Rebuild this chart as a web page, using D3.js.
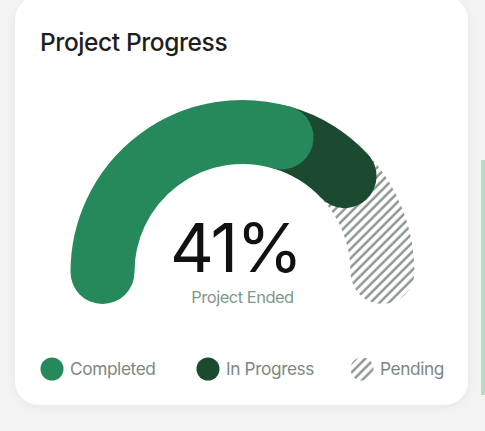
<!DOCTYPE html>
<html>
<head>
<meta charset="utf-8">
<script src="https://cdn.jsdelivr.net/npm/d3@7"></script>
<style>
  html, body { margin: 0; padding: 0; background: #f3f3f3; }
  svg { display: block; }
</style>
</head>
<body>
<div id="chart"></div>
<script>
// ---- data ----
const categories = ["Completed", "In Progress", "Pending"];
const values = [59, 17, 24];
const colors = ["#26895b", "#1b4a30", "url(#hatch)"];
const centerValue = "41%";
const centerLabel = "Project Ended";
const title = "Project Progress";

const W = 485, H = 431;
const svg = d3.select("#chart").append("svg").attr("width", W).attr("height", H);

const defs = svg.append("defs");
const pat = defs.append("pattern")
  .attr("id", "hatch")
  .attr("patternUnits", "userSpaceOnUse")
  .attr("width", 6.5).attr("height", 6.5)
  .attr("patternTransform", "rotate(45)");
pat.append("rect").attr("width", 6.5).attr("height", 6.5).attr("fill", "#ffffff");
pat.append("line").attr("x1", 1.5).attr("y1", 0).attr("x2", 1.5).attr("y2", 6.5)
  .attr("stroke", "#8a958f").attr("stroke-width", 2.4);

const shadow = defs.append("filter").attr("id", "sh").attr("x", "-10%").attr("y", "-10%").attr("width", "120%").attr("height", "120%");
shadow.append("feDropShadow").attr("dx", 0).attr("dy", 2).attr("stdDeviation", 4).attr("flood-color", "#000").attr("flood-opacity", 0.05);

// background & card
svg.append("rect").attr("width", W).attr("height", H).attr("fill", "#f3f3f3");
svg.append("rect").attr("x", 481).attr("y", 160).attr("width", 4).attr("height", 235).attr("fill", "#b5dcc3");
svg.append("rect").attr("x", 15).attr("y", -4).attr("width", 453).attr("height", 409)
  .attr("rx", 24).attr("fill", "#ffffff").attr("filter", "url(#sh)");

// title
svg.append("text").attr("x", 40).attr("y", 51).text(title)
  .attr("font-family", "Inter, sans-serif").attr("font-weight", 500)
  .attr("font-size", 24.5).attr("fill", "#1e1e1e").attr("letter-spacing", -0.4);

// gauge
const cx = 242.5, cy = 272, rMid = 140, band = 64;
const angle = d3.scaleLinear().domain([0, d3.sum(values)]).range([-Math.PI / 2, Math.PI / 2]);
const cum = d3.cumsum(values);
const segs = categories.map((c, i) => ({ c, start: i ? cum[i - 1] : 0, end: cum[i], color: colors[i] }));

function arcPath(d) {
  const p = d3.path();
  const a0 = angle(d.start) - Math.PI / 2, a1 = angle(d.end) - Math.PI / 2;
  p.arc(cx, cy, rMid, a0, a1, false);
  return p.toString();
}
const g = svg.append("g");
g.selectAll("path").data(segs.slice().reverse()).join("path")
  .attr("d", arcPath)
  .attr("fill", "none")
  .attr("stroke", d => d.color)
  .attr("stroke-width", band)
  .attr("stroke-linecap", "round");

// center text
svg.append("text").attr("x", cx - 7).attr("y", 272).attr("text-anchor", "middle")
  .text(centerValue).attr("font-family", "Inter, sans-serif").attr("font-weight", 400)
  .attr("font-size", 68).attr("fill", "#111").attr("letter-spacing", -2);
svg.append("text").attr("x", cx).attr("y", 303).attr("text-anchor", "middle")
  .text(centerLabel).attr("font-family", "Inter, sans-serif").attr("font-weight", 400)
  .attr("font-size", 16.5).attr("fill", "#7f9a89").attr("letter-spacing", -0.5);

// legend
const legX = [52, 208, 362];
const leg = svg.append("g").selectAll("g").data(segs).join("g")
  .attr("transform", (d, i) => `translate(${legX[i]},369)`);
leg.append("circle").attr("r", 11.5).attr("fill", d => d.color);
leg.append("text").attr("x", 18).attr("y", 6).text(d => d.c)
  .attr("font-family", "Inter, sans-serif").attr("font-size", 17.3)
  .attr("fill", "#7d8781").attr("letter-spacing", -0.4);
</script>
</body>
</html>
